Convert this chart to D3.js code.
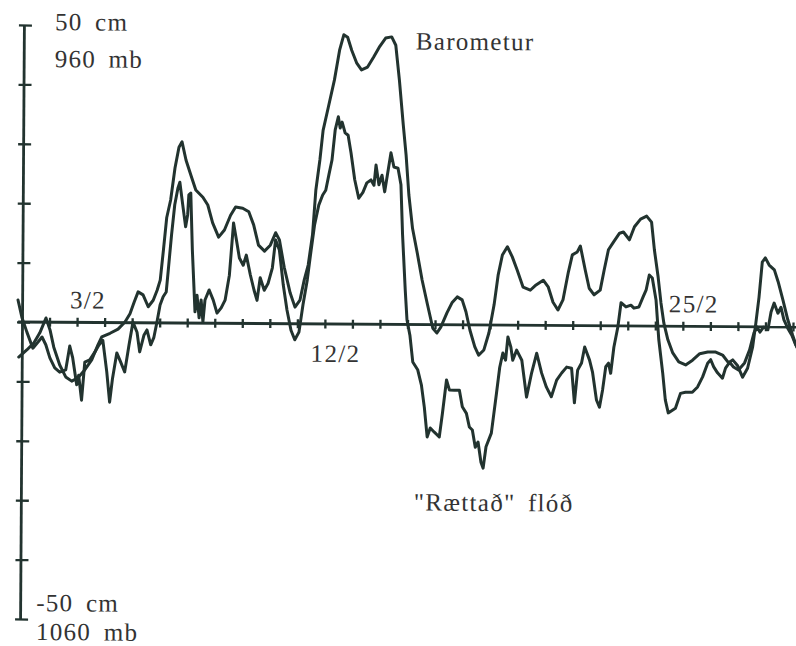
<!DOCTYPE html>
<html>
<head>
<meta charset="utf-8">
<script src="https://cdn.jsdelivr.net/npm/d3@7"></script>
<style>
  html, body { margin: 0; padding: 0; background: #fff; }
  svg { display: block; }
  text { font-family: "Liberation Serif", "DejaVu Serif", serif; fill: #333; }
</style>
</head>
<body>
<svg id="chart" width="796" height="646"></svg>
<script>
// Loftvog (öfugur ás) og leiðrétt sjávarflóð, febrúar — dagur 1 = 1. feb. kl. 00
const baroDay = [0.89,1.18,1.44,1.65,1.87,2.02,2.16,2.38,2.60,2.82,
  3.03,3.29,3.54,3.76,3.90,4.20,4.49,4.74,4.92,5.07,
  5.21,5.39,5.58,5.76,5.90,6.01,6.12,6.23,6.37,6.52,
  6.66,6.77,6.92,7.10,7.28,7.54,7.72,7.90,8.12,8.33,
  8.55,8.73,8.99,9.21,9.39,9.57,9.79,10.00,10.19,10.33,
  10.51,10.73,10.91,11.09,11.24,11.38,11.53,11.64,11.78,11.89,
  12.07,12.29,12.47,12.62,12.76,12.91,13.09,13.27,13.49,13.71,
  13.93,14.14,14.36,14.51,14.65,14.80,14.91,15.02,15.16,15.34,
  15.52,15.71,15.92,16.07,16.21,16.43,16.61,16.80,16.98,17.12,
  17.27,17.45,17.59,17.78,17.96,18.14,18.28,18.43,18.61,18.79,
  18.97,19.19,19.45,19.66,19.92,20.10,20.28,20.46,20.64,20.83,
  20.97,21.15,21.26,21.44,21.59,21.77,21.99,22.13,22.28,22.46,
  22.68,22.82,23.04,23.22,23.44,23.66,23.84,23.95,24.09,24.20,
  24.31,24.46,24.64,24.86,25.11,25.36,25.62,25.91,26.20,26.45,
  26.67,26.82,27.00,27.18,27.36,27.54,27.65,27.76,27.87,27.98,
  28.12,28.31,28.45,28.63,28.81,28.99,29.14];

const baroCm = [-5.9,-4.7,-3.5,-1.8,0.7,-1.3,-4.2,-7.2,-9.2,-9.9,
  -9.4,-8.0,-6.3,-3.8,-2.4,-1.8,-1.1,0.1,1.5,3.5,
  5.2,4.7,2.7,3.8,5.5,7.2,12.3,17.7,20.7,26.1,
  29.6,30.5,27.4,24.9,22.4,21.2,19.9,16.9,14.5,15.7,
  18.2,19.6,19.4,18.8,16.6,13.2,12.2,13.2,15.3,14.1,
  9.5,5.2,2.8,4.0,7.4,9.9,15.0,22.5,27.6,32.6,
  36.4,41.1,46.1,48.7,48.3,46.1,44.0,42.8,43.3,45.0,
  46.8,48.2,48.4,47.0,41.1,33.6,28.5,21.8,16.2,12.0,
  7.5,3.6,-0.6,-1.4,-0.4,2.0,3.7,4.7,4.2,2.2,
  -0.9,-3.7,-5.1,-4.2,-1.3,3.4,8.4,11.8,13.2,11.5,
  9.3,6.4,5.9,6.8,7.6,6.5,3.9,2.6,4.3,9.0,
  11.9,12.4,13.4,9.4,6.3,5.2,6.0,9.4,12.8,14.1,
  15.6,15.8,14.5,16.7,18.0,18.5,17.5,12.8,8.3,3.9,
  0.5,-2.3,-4.5,-6.0,-6.5,-5.7,-4.6,-4.3,-4.3,-4.8,
  -6.1,-5.6,-6.6,-8.5,-7.0,-3.4,0.6,5.0,10.9,11.6,
  10.4,9.6,7.6,4.5,1.2,-1.4,-3.4];

const floodDay = [0.85,1.00,1.18,1.40,1.58,1.73,1.87,2.02,2.20,2.38,
  2.60,2.74,2.85,3.00,3.07,3.18,3.29,3.47,3.65,3.80,
  3.94,4.09,4.20,4.30,4.45,4.59,4.74,4.89,5.03,5.18,
  5.28,5.43,5.54,5.68,5.79,5.90,6.01,6.12,6.23,6.30,
  6.41,6.52,6.63,6.70,6.81,6.92,6.99,7.03,7.10,7.17,
  7.28,7.35,7.43,7.50,7.57,7.64,7.79,7.94,8.08,8.23,
  8.37,8.52,8.66,8.77,8.88,9.02,9.13,9.28,9.42,9.53,
  9.64,9.79,9.93,10.08,10.19,10.33,10.48,10.62,10.77,10.91,
  11.06,11.20,11.35,11.46,11.60,11.75,11.89,12.00,12.11,12.22,
  12.33,12.44,12.51,12.58,12.69,12.80,12.91,13.05,13.20,13.35,
  13.49,13.64,13.75,13.82,13.93,14.04,14.14,14.25,14.36,14.47,
  14.62,14.73,14.80,14.91,14.98,15.09,15.20,15.38,15.52,15.63,
  15.74,15.85,16.00,16.18,16.29,16.43,16.54,16.72,16.90,17.01,
  17.16,17.27,17.38,17.49,17.59,17.70,17.78,17.88,18.07,18.25,
  18.36,18.47,18.57,18.65,18.76,18.83,18.97,19.16,19.34,19.52,
  19.70,19.88,20.06,20.24,20.43,20.61,20.79,20.97,21.08,21.19,
  21.33,21.44,21.62,21.73,21.88,21.99,22.10,22.21,22.31,22.39,
  22.50,22.64,22.75,22.93,23.11,23.22,23.40,23.55,23.66,23.77,
  23.88,24.02,24.13,24.28,24.38,24.49,24.75,24.93,25.11,25.36,
  25.55,25.73,25.91,26.02,26.13,26.27,26.45,26.56,26.71,26.85,
  27.03,27.25,27.43,27.58,27.69,27.80,27.94,28.09,28.20,28.31,
  28.45,28.56,28.67,28.81,28.96,29.10];

const floodCm = [3.7,0.7,-1.7,-4.4,-3.4,-2.5,-3.8,-6.0,-7.7,-8.4,
  -8.0,-4.0,-6.0,-10.5,-8.9,-13.1,-6.7,-6.3,-5.0,-3.8,
  -3.0,-8.3,-13.4,-9.4,-5.1,-6.6,-8.3,-3.8,0.1,-1.6,
  -4.9,-2.1,-1.2,-3.7,-2.5,0.1,3.0,4.4,5.2,8.9,
  14.8,19.9,22.7,23.7,19.9,16.2,18.2,21.6,21.9,12.3,
  1.9,4.7,0.9,3.9,0.2,3.9,5.6,3.9,1.7,2.6,
  3.9,8.1,16.9,14.0,11.0,9.8,11.5,8.2,5.6,3.9,
  7.7,5.6,6.8,9.4,14.1,12.4,6.5,2.3,-1.1,-2.7,
  -1.4,3.2,7.4,11.6,16.6,20.0,21.7,22.5,25.1,27.6,
  32.7,34.9,33.0,34.0,32.2,31.8,28.8,24.3,21.2,22.2,
  23.8,24.3,23.4,26.8,23.5,25.1,22.3,25.6,28.9,26.5,
  26.3,23.5,15.1,5.8,0.8,-1.8,-6.3,-7.6,-10.2,-13.9,
  -18.9,-17.4,-18.1,-18.9,-14.9,-9.3,-11.0,-11.0,-11.0,-13.8,
  -14.9,-17.2,-17.7,-20.6,-19.7,-23.1,-24.1,-20.5,-18.2,-11.4,
  -7.1,-4.7,-5.9,-2.0,-3.7,-5.9,-4.2,-5.9,-12.1,-8.0,
  -4.7,-8.0,-10.4,-12.0,-9.2,-8.0,-7.0,-7.2,-13.0,-7.5,
  -6.3,-3.6,-5.8,-7.8,-12.5,-13.7,-10.8,-6.9,-6.3,-8.0,
  -3.6,-0.2,3.9,3.2,3.5,3.0,3.2,4.9,6.1,8.6,
  8.1,4.4,-2.3,-7.9,-12.4,-14.6,-13.8,-11.3,-11.1,-11.1,
  -10.2,-8.5,-6.2,-5.6,-6.8,-7.8,-8.7,-7.0,-6.0,-6.8,
  -7.3,-6.1,-3.9,-1.1,0.0,-0.9,0.0,-0.5,2.5,4.0,
  2.3,3.3,1.2,-0.2,-1.4,-3.0];

// Ásar og merkingar
const dayTicks = d3.range(1, 30);               // daglínur 1.–29. (1. mars)
const cmTicks = d3.range(-50, 51, 10);
const dateLabels = ["3/2", "12/2", "25/2"];
const dateLabelDays = [3, 12, 25];
const dateLabelAbove = [true, false, true];
const topScaleLabels = ["50 cm", "960 mb"];
const bottomScaleLabels = ["-50 cm", "1060 mb"];
const seriesNames = ["Barometur", "\"R\u00E6tta\u00F0\" fl\u00F3\u00F0"];

const ink = "#22332f";

const svg = d3.select("#chart");
svg.append("rect").attr("width", 796).attr("height", 646).attr("fill", "#fff");

const x = d3.scaleLinear().domain([1, 29]).range([22, 793]);
const y = d3.scaleLinear().domain([-50, 50]).range([619, 25]);

// the printed figure sits a hair clockwise on the page
const g = svg.append("g")
  .attr("transform", `rotate(0.37, ${x(1)}, ${y(0)})`);

// vertical scale
const yAxis = d3.axisLeft(y).tickValues(cmTicks).tickSizeOuter(0).tickFormat("");
const yG = g.append("g").attr("transform", `translate(${x(1)},0)`).call(yAxis);
yG.select(".domain").attr("stroke", ink).attr("stroke-width", 2.8);
yG.selectAll(".tick line").attr("x1", -5).attr("x2", 8)
  .attr("stroke", ink).attr("stroke-width", 2.3);

// horizontal zero line with day ticks
g.append("line")
  .attr("x1", x(0.86)).attr("x2", x(29.15))
  .attr("y1", y(0)).attr("y2", y(0))
  .attr("stroke", ink).attr("stroke-width", 2.8);
const xAxis = d3.axisBottom(x).tickValues(dayTicks).tickSizeOuter(0).tickFormat("");
const xG = g.append("g").attr("transform", `translate(0,${y(0)})`).call(xAxis);
xG.select(".domain").remove();
xG.selectAll(".tick line").attr("y1", -4.5).attr("y2", 4.5)
  .attr("stroke", ink).attr("stroke-width", 2.3);

// series
const line = d3.line().x(d => x(d[0])).y(d => y(d[1]));
const series = [d3.zip(baroDay, baroCm), d3.zip(floodDay, floodCm)];
g.selectAll("path.series").data(series).join("path")
  .attr("class", "series")
  .attr("d", line)
  .attr("fill", "none")
  .attr("stroke", ink)
  .attr("stroke-width", 3)
  .attr("stroke-linejoin", "round")
  .attr("stroke-linecap", "round");

const fontSize = 25;
const textStyle = sel => sel
  .attr("font-size", fontSize)
  .attr("letter-spacing", 1.3)
  .attr("word-spacing", 5);

// date labels, centred on their day
g.selectAll("text.date").data(dateLabels).join("text")
  .attr("class", "date")
  .attr("x", (d, i) => x(dateLabelDays[i] + 0.5) - 3)
  .attr("y", (d, i) => dateLabelAbove[i] ? y(0) - 14 : y(0) + 38)
  .attr("text-anchor", "middle")
  .text(d => d)
  .call(textStyle);

// scale end labels
g.selectAll("text.top").data(topScaleLabels).join("text")
  .attr("class", "top")
  .attr("x", x(1) + 31)
  .attr("y", (d, i) => y(50) + 5 + i * 37)
  .text(d => d)
  .call(textStyle);
g.selectAll("text.bottom").data(bottomScaleLabels).join("text")
  .attr("class", "bottom")
  .attr("x", x(1) + 16)
  .attr("y", (d, i) => y(-50) - 8 + i * 29)
  .text(d => d)
  .call(textStyle);

// series names
g.append("text").attr("x", 414).attr("y", 47).text(seriesNames[0]).call(textStyle);
g.append("text").attr("x", 415).attr("y", 508).text(seriesNames[1]).call(textStyle);
</script>
</body>
</html>
